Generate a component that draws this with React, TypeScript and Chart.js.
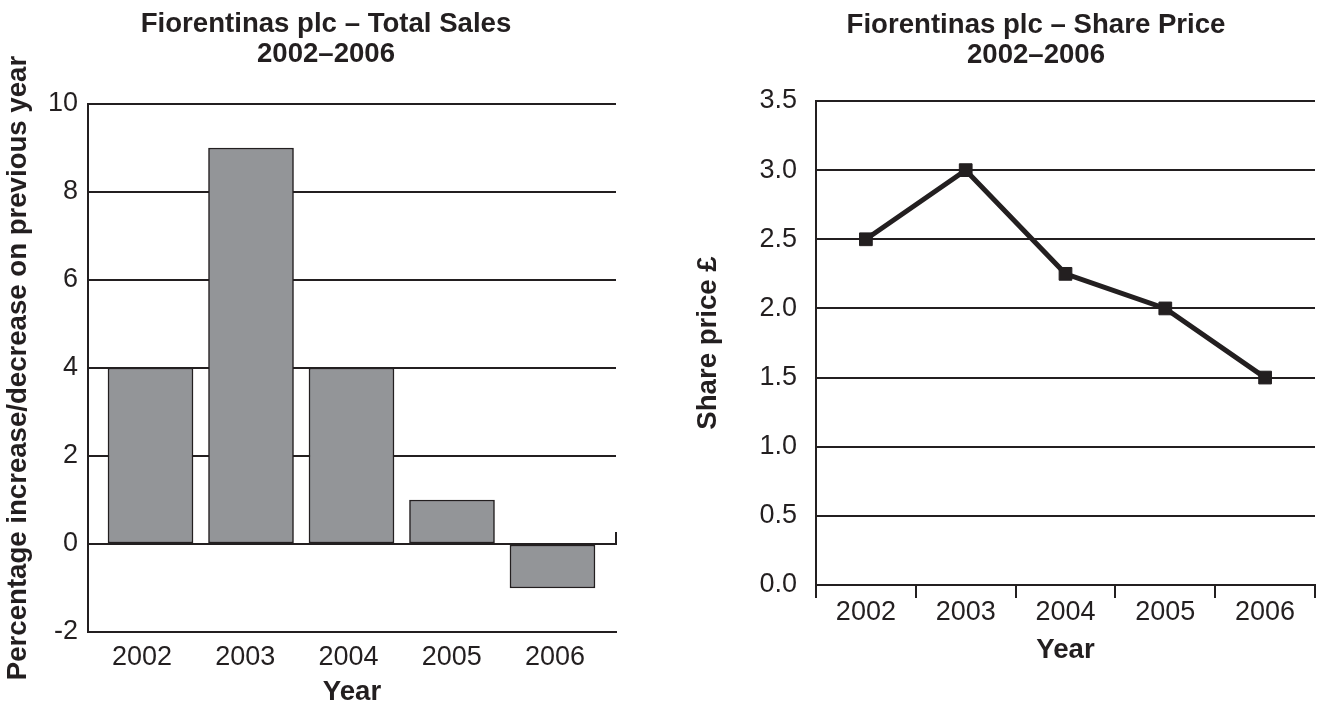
import React, { useEffect, useRef } from 'react';
import { Chart, registerables } from 'chart.js';

Chart.register(...registerables);

const FONT_FAMILY = "'Liberation Sans', Arial, Helvetica, sans-serif";
const INK = '#231f20';
const BAR_FILL = '#939598';

// Total sales: percentage change on the previous year
const salesYears = [2002, 2003, 2004, 2005, 2006];
const salesChange = [4, 9, 4, 1, -1];
const salesTitle = ['Fiorentinas plc – Total Sales', '2002–2006'];
const salesAxisTitle = 'Percentage increase/decrease on previous year';

// Share price in pounds
const priceYears = ['2002', '2003', '2004', '2005', '2006'];
const sharePrice = [2.5, 3.0, 2.25, 2.0, 1.5];
const priceTitle = ['Fiorentinas plc – Share Price', '2002–2006'];
const priceAxisTitle = 'Share price £';

const yearAxisTitle = 'Year';

const tickFont = { family: FONT_FAMILY, size: 27 };
const titleFont = { family: FONT_FAMILY, size: 27.6, weight: 'bold' as const, lineHeight: 1 };

// Two-line heading drawn above the plot
const headingPlugin = {
  id: 'heading',
  afterDraw(chart: any, _args: any, opts: any) {
    const { ctx } = chart;
    ctx.save();
    ctx.font = `bold ${opts.size}px ${FONT_FAMILY}`;
    ctx.fillStyle = INK;
    ctx.textAlign = 'center';
    ctx.textBaseline = 'alphabetic';
    const lines: string[] = opts.lines;
    lines.forEach((line, i) => ctx.fillText(line, opts.x, opts.baselines[i]));
    ctx.restore();
  },
};

// Small upward tick at the right end of the zero line
const zeroTickPlugin = {
  id: 'zeroTick',
  afterDatasetsDraw(chart: any) {
    const { ctx, chartArea, scales } = chart;
    const y0 = scales.y.getPixelForValue(0);
    ctx.save();
    ctx.strokeStyle = INK;
    ctx.lineWidth = 2;
    ctx.beginPath();
    ctx.moveTo(chartArea.right, y0 + 1);
    ctx.lineTo(chartArea.right, y0 - 12);
    ctx.stroke();
    ctx.restore();
  },
};

function SalesChart() {
  const ref = useRef<HTMLCanvasElement>(null);
  useEffect(() => {
    const chart = new Chart(ref.current as HTMLCanvasElement, {
      type: 'bar',
      data: {
        datasets: [
          {
            data: salesYears.map((yr, i) => ({ x: yr, y: salesChange[i] })),
            xAxisID: 'xBars',
            yAxisID: 'y',
            backgroundColor: BAR_FILL,
            borderColor: INK,
            borderWidth: 1.5,
            borderSkipped: false,
            barThickness: 85,
          },
        ],
      },
      options: {
        responsive: false,
        animation: false,
        events: [],
        layout: { padding: { top: 104, right: 44, bottom: 0, left: 0 } },
        plugins: {
          legend: { display: false },
          tooltip: { enabled: false },
          heading: { lines: salesTitle, x: 326, baselines: [32, 62], size: 27.6 },
        } as any,
        scales: {
          xBars: {
            type: 'linear',
            axis: 'x',
            position: 'bottom',
            display: false,
            offset: false,
            min: 2001.378,
            max: 2006.632,
          },
          x: {
            type: 'linear',
            axis: 'x',
            position: 'bottom',
            offset: false,
            min: 2001.477,
            max: 2006.591,
            afterBuildTicks: (s: any) => {
              s.ticks = salesYears.map((v) => ({ value: v }));
            },
            ticks: {
              callback: (v: any) => String(v),
              color: INK,
              font: tickFont,
              padding: 9,
              maxRotation: 0,
              autoSkip: false,
            },
            grid: { display: false, drawTicks: false, offset: false },
            border: { display: true, color: INK, width: 2 },
            title: {
              display: true,
              text: yearAxisTitle,
              color: INK,
              font: titleFont,
              padding: { top: 0, bottom: 0 },
            },
            afterFit: (s: any) => {
              s.height = 74;
            },
          },
          y: {
            type: 'linear',
            position: 'left',
            min: -2,
            max: 10,
            ticks: { stepSize: 2, color: INK, font: tickFont, padding: 10 },
            grid: { color: INK, lineWidth: 2, drawTicks: false },
            border: { display: true, color: INK, width: 2 },
            title: {
              display: true,
              text: salesAxisTitle,
              color: INK,
              font: titleFont,
              padding: { top: 5, bottom: 0 },
            },
            afterFit: (s: any) => {
              s.width = 88;
            },
          },
        } as any,
      },
      plugins: [headingPlugin, zeroTickPlugin],
    });
    return () => chart.destroy();
  }, []);
  return (
    <canvas ref={ref} width={660} height={706} style={{ display: 'block', width: 660, height: 706 }} />
  );
}

function PriceChart() {
  const ref = useRef<HTMLCanvasElement>(null);
  useEffect(() => {
    const chart = new Chart(ref.current as HTMLCanvasElement, {
      type: 'line',
      data: {
        labels: priceYears,
        datasets: [
          {
            data: sharePrice,
            borderColor: INK,
            borderWidth: 5,
            tension: 0,
            fill: false,
            pointStyle: 'rect',
            pointRadius: 9,
            pointBackgroundColor: INK,
            pointBorderColor: INK,
            pointBorderWidth: 1,
          },
        ],
      },
      options: {
        responsive: false,
        animation: false,
        events: [],
        layout: { padding: { top: 101, right: 4, bottom: 0, left: 0 } },
        plugins: {
          legend: { display: false },
          tooltip: { enabled: false },
          heading: { lines: priceTitle, x: 376, baselines: [33, 63], size: 27.6 },
        } as any,
        scales: {
          x: {
            type: 'category',
            offset: true,
            grid: {
              display: true,
              offset: true,
              drawOnChartArea: false,
              drawTicks: true,
              tickLength: 13,
              color: INK,
              lineWidth: 2,
            },
            border: { display: true, color: INK, width: 2 },
            ticks: { color: INK, font: tickFont, padding: -2, maxRotation: 0, autoSkip: false },
            title: {
              display: true,
              text: yearAxisTitle,
              color: INK,
              font: titleFont,
              padding: { top: 0, bottom: 42 },
            },
            afterFit: (s: any) => {
              s.height = 121;
            },
          },
          y: {
            type: 'linear',
            position: 'left',
            min: 0,
            max: 3.5,
            ticks: {
              stepSize: 0.5,
              callback: (v: any) => Number(v).toFixed(1),
              color: INK,
              font: tickFont,
              padding: 19,
            },
            grid: { color: INK, lineWidth: 2, drawTicks: false },
            border: { display: true, color: INK, width: 2 },
            title: {
              display: true,
              text: priceAxisTitle,
              color: INK,
              font: titleFont,
              padding: { top: 35, bottom: 0 },
            },
            afterFit: (s: any) => {
              s.width = 156;
            },
          },
        } as any,
      },
      plugins: [headingPlugin],
    });
    return () => chart.destroy();
  }, []);
  return (
    <canvas ref={ref} width={665} height={706} style={{ display: 'block', width: 665, height: 706 }} />
  );
}

export default function App() {
  return (
    <div
      style={{
        position: 'absolute',
        left: 0,
        top: 0,
        width: 1325,
        height: 706,
        background: '#ffffff',
        overflow: 'hidden',
      }}
    >
      <div style={{ position: 'absolute', left: 0, top: 0 }}>
        <SalesChart />
      </div>
      <div style={{ position: 'absolute', left: 660, top: 0 }}>
        <PriceChart />
      </div>
    </div>
  );
}
